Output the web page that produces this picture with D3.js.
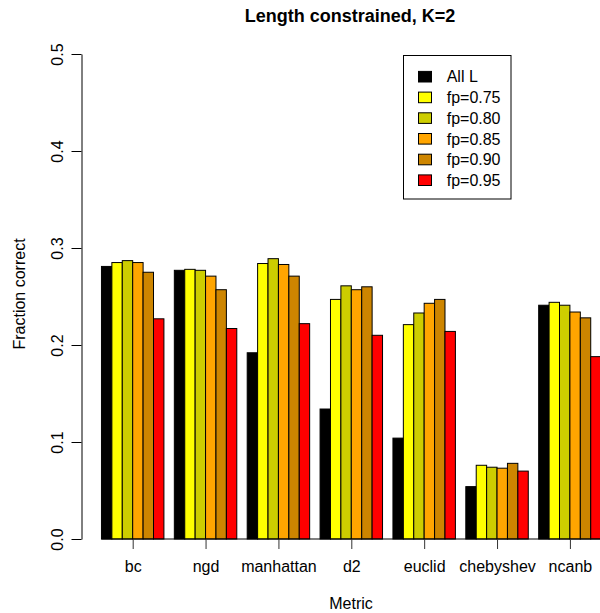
<!DOCTYPE html>
<html>
<head>
<meta charset="utf-8">
<script src="https://cdn.jsdelivr.net/npm/d3@7"></script>
<style>
  body { margin: 0; background: #fff; }
  svg { display: block; font-family: "Liberation Sans", Arial, sans-serif; }
</style>
</head>
<body>
<div id="chart"></div>
<script>
// Data
const metrics = ['bc', 'ngd', 'manhattan', 'd2', 'euclid', 'chebyshev', 'ncanb'];
const seriesNames = ['All L', 'fp=0.75', 'fp=0.80', 'fp=0.85', 'fp=0.90', 'fp=0.95'];
const seriesColors = ['#000000', '#FFFF00', '#CDCD00', '#FFA500', '#CD8500', '#FF0000'];

const allL = [0.281, 0.277, 0.192, 0.134, 0.104, 0.054, 0.241];
const fp075 = [0.285, 0.278, 0.284, 0.247, 0.221, 0.076, 0.244];
const fp080 = [0.287, 0.277, 0.289, 0.261, 0.233, 0.074, 0.241];
const fp085 = [0.285, 0.271, 0.283, 0.257, 0.243, 0.073, 0.234];
const fp090 = [0.275, 0.257, 0.271, 0.260, 0.247, 0.078, 0.228];
const fp095 = [0.227, 0.217, 0.222, 0.210, 0.214, 0.070, 0.188];

const series = [allL, fp075, fp080, fp085, fp090, fp095];
const yTicks = [0, 0.1, 0.2, 0.3, 0.4, 0.5];

const W = 600, H = 613;
const svg = d3.select('#chart').append('svg')
  .attr('width', W)
  .attr('height', H);

// barplot units: 1 per bar, 1 of space before each group
const perGroup = seriesNames.length + 1;
const nUnits = metrics.length * perGroup;
const unit = 10.41;
const x0 = 91.05;

let x = d3.scaleLinear()
  .domain([0, nUnits])
  .range([x0, x0 + nUnits * unit]);

let y = d3.scaleLinear()
  .domain([0, 0.5])
  .range([539, 54]);

// flatten for drawing
let bars = [];
metrics.forEach((m, i) => {
  series.forEach((s, j) => {
    bars.push({metric: m, i: i, j: j, value: s[i]});
  });
});

svg.append('g')
  .selectAll('rect')
  .data(bars)
  .enter()
  .append('rect')
  .attr('x', d => x(d.i * perGroup + 1 + d.j))
  .attr('width', x(1) - x(0))
  .attr('y', d => y(d.value))
  .attr('height', d => y(0) - y(d.value))
  .attr('fill', d => seriesColors[d.j])
  .attr('stroke', '#000')
  .attr('stroke-width', 1);

// baseline under the bars
svg.append('line')
  .attr('x1', x(1)).attr('x2', x(nUnits))
  .attr('y1', y(0)).attr('y2', y(0))
  .attr('stroke', '#000');

// x axis at group centres
let xc = d3.scalePoint()
  .domain(metrics)
  .range([x(1 + seriesNames.length / 2), x((metrics.length - 1) * perGroup + 1 + seriesNames.length / 2)]);

let gx = svg.append('g')
  .attr('transform', 'translate(0,' + y(0) + ')')
  .call(d3.axisBottom(xc).tickSize(10).tickSizeOuter(0));
gx.select('.domain').remove();
gx.selectAll('.tick line').attr('stroke', '#333');
gx.selectAll('.tick text')
  .attr('y', 33)
  .attr('dy', 0)
  .attr('font-size', 16)
  .attr('fill', '#000');

// y axis
let gy = svg.append('g')
  .attr('transform', 'translate(81.5,0)')
  .call(d3.axisLeft(y).tickValues(yTicks).tickFormat(d3.format('.1f')).tickSize(10).tickSizeOuter(0));
gy.select('.domain').attr('stroke', '#000');
gy.selectAll('.tick line').attr('stroke', '#000');
gy.selectAll('.tick text')
  .attr('transform', 'rotate(-90)')
  .attr('x', 0)
  .attr('y', -19)
  .attr('dy', 0)
  .attr('text-anchor', 'middle')
  .attr('font-size', 16)
  .attr('fill', '#000');

// titles
svg.append('text')
  .attr('x', 350).attr('y', 22)
  .attr('text-anchor', 'middle')
  .attr('font-size', 18)
  .attr('font-weight', 'bold')
  .text('Length constrained, K=2');

svg.append('text')
  .attr('x', 351).attr('y', 609)
  .attr('text-anchor', 'middle')
  .attr('font-size', 16)
  .text('Metric');

svg.append('text')
  .attr('transform', 'translate(25,294) rotate(-90)')
  .attr('text-anchor', 'middle')
  .attr('font-size', 16)
  .text('Fraction correct');

// legend
let legend = svg.append('g');
legend.append('rect')
  .attr('x', 403.5).attr('y', 55.5)
  .attr('width', 107.5).attr('height', 143.5)
  .attr('fill', '#fff')
  .attr('stroke', '#000');

let rows = legend.selectAll('g.row')
  .data(seriesNames)
  .enter()
  .append('g')
  .attr('class', 'row')
  .attr('transform', (d, i) => 'translate(0,' + (76.7 + i * 20.7) + ')');

rows.append('rect')
  .attr('x', 418.5).attr('y', -5.3)
  .attr('width', 13).attr('height', 10.6)
  .attr('fill', (d, i) => seriesColors[i])
  .attr('stroke', '#000');

rows.append('text')
  .attr('x', 446.7)
  .attr('dy', '0.36em')
  .attr('font-size', 16)
  .text(d => d);
</script>
</body>
</html>
